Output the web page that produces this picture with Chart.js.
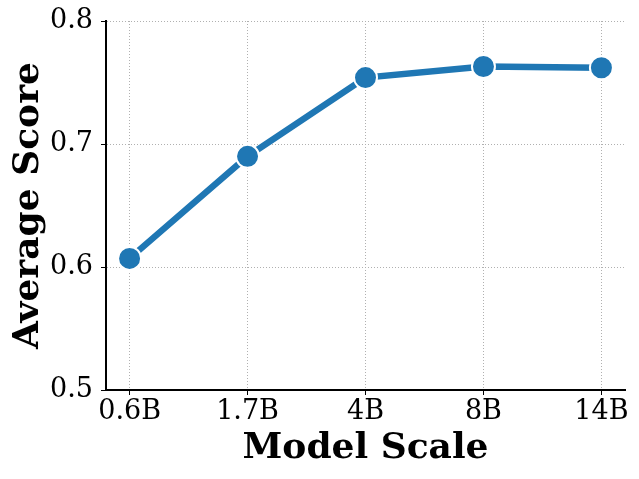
<!DOCTYPE html>
<html lang="en">
<head>
    <meta charset="UTF-8" />
    <title>Average Score vs Model Scale</title>
    <script src="https://cdn.jsdelivr.net/npm/chart.js"></script>
    <style>
        html, body { margin: 0; padding: 0; background: #fff; }
    </style>
</head>
<body>
    <canvas id="scaleChart" width="639" height="479"></canvas>

    <script>
        const modelLabels = ["0.6B", "1.7B", "4B", "8B", "14B"];
        const avgScores = [0.607, 0.690, 0.754, 0.763, 0.762];
        const yTicks = [0.5, 0.6, 0.7, 0.8];

        const serif = "'DejaVu Serif', serif";
        const blue = "#1f77b4";

        const ctx = document.getElementById("scaleChart").getContext("2d");

        const chart = new Chart(ctx, {
            type: "line",
            data: {
                datasets: [{
                    data: avgScores.map((v, i) => ({ x: i, y: v })),
                    borderColor: blue,
                    backgroundColor: blue,
                    borderWidth: 6.5,
                    pointRadius: 11.5,
                    pointBorderColor: "#fff",
                    pointBorderWidth: 2,
                    pointBackgroundColor: blue,
                    tension: 0
                }]
            },
            options: {
                responsive: false,
                animation: false,
                layout: { padding: { left: 0, right: 14, top: 21, bottom: 0 } },
                plugins: {
                    legend: { display: false },
                    tooltip: { enabled: false }
                },
                scales: {
                    x: {
                        type: "linear",
                        min: -0.2,
                        max: 4.2,
                        afterBuildTicks: (axis) => {
                            axis.ticks = modelLabels.map((_, i) => ({ value: i }));
                        },
                        afterFit: (axis) => {
                            axis.height = 89;
                            axis.paddingLeft = 0;
                            axis.paddingRight = 0;
                        },
                        border: { display: true, color: "#000", width: 2, dash: [1, 2] },
                        grid: {
                            color: "#b0b0b0",
                            lineWidth: 1,
                            tickColor: "#000",
                            tickLength: 5,
                            tickBorderDash: []
                        },
                        ticks: {
                            color: "#000",
                            font: { family: serif, size: 27 },
                            padding: 1,
                            maxRotation: 0,
                            autoSkip: false,
                            callback: (v) => modelLabels[v]
                        },
                        title: {
                            display: true,
                            text: "Model Scale",
                            color: "#000",
                            font: { family: serif, size: 36, weight: "bold" },
                            padding: { top: 0, bottom: 9 }
                        }
                    },
                    y: {
                        min: 0.5,
                        max: 0.8,
                        afterBuildTicks: (axis) => {
                            axis.ticks = yTicks.map(v => ({ value: v }));
                        },
                        afterFit: (axis) => {
                            axis.width = 106;
                            axis.paddingTop = 0;
                            axis.paddingBottom = 0;
                        },
                        border: { display: true, color: "#000", width: 2, dash: [1, 2] },
                        grid: {
                            color: "#b0b0b0",
                            lineWidth: 1,
                            tickColor: "#000",
                            tickLength: 5,
                            tickBorderDash: []
                        },
                        ticks: {
                            color: "#000",
                            font: { family: serif, size: 27 },
                            padding: 8,
                            callback: (v) => v.toFixed(1)
                        },
                        title: {
                            display: true,
                            text: "Average Score",
                            color: "#000",
                            font: { family: serif, size: 36, weight: "bold" },
                            padding: { top: 7, bottom: 0 }
                        }
                    }
                }
            }
        });
    </script>
</body>
</html>
